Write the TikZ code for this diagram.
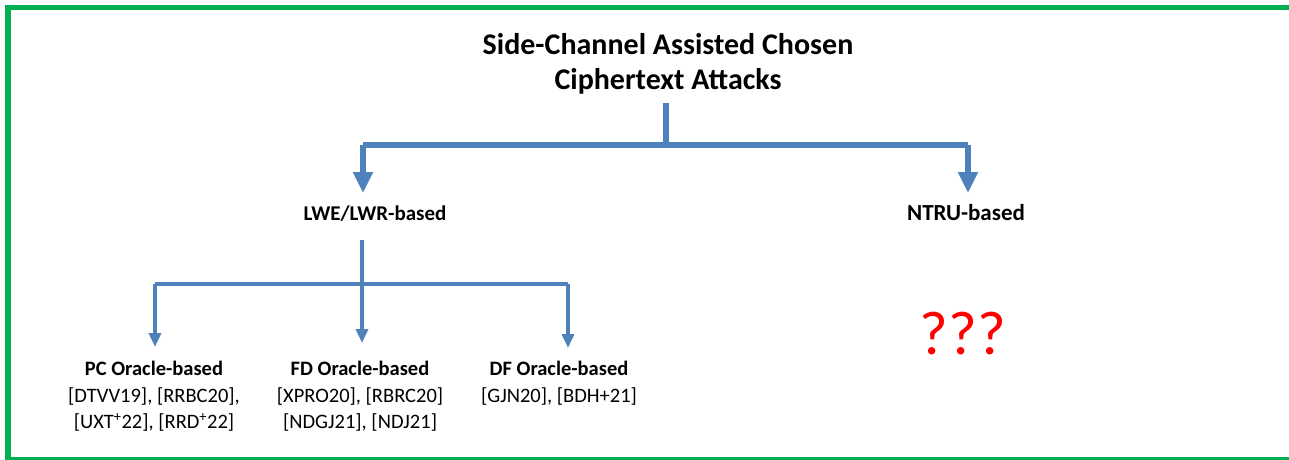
\documentclass[tikz,border=0pt]{standalone}
\usepackage{fontspec}
\setmainfont{Carlito}
\usetikzlibrary{arrows.meta}
\definecolor{framegreen}{RGB}{0,176,80}
\definecolor{linkblue}{RGB}{79,129,189}
\tikzset{
  heading/.style={font=\bfseries\fontsize{30}{35}\selectfont, align=center, inner sep=0pt},
  branch/.style={font=\bfseries\fontsize{21}{24}\selectfont, inner sep=0pt},
  leaf/.style={font=\fontsize{20.5}{26.5}\selectfont, align=center, inner sep=0pt, anchor=north},
  bigline/.style={linkblue, line width=5.5pt},
  bigarrow/.style={bigline, -{Triangle[width=19pt,length=21pt]}},
  smallline/.style={linkblue, line width=3.5pt},
  smallarrow/.style={smallline, -{Triangle[width=12pt,length=14pt]}},
}
\begin{document}
\begin{tikzpicture}[x=1pt,y=-1pt]
\useasboundingbox (0,0) rectangle (1289,459);
% outer frame
\draw[framegreen, line width=5.5pt] (8,7.5) rectangle (1320,459.5);

% nodes
\node[heading] (root) at (668,64) {Side-Channel Assisted Chosen\\Ciphertext Attacks};
\node[branch] (lwe) at (375,214) {LWE/LWR-based};
\node[branch, font=\bfseries\fontsize{23}{24}\selectfont] (ntru) at (966,213) {NTRU-based};
\node[leaf] (pc) at (154,361) {\textbf{PC Oracle-based}\\{}[DTVV19], [RRBC20],\\{}[UXT\textsuperscript{+}22], [RRD\textsuperscript{+}22]};
\node[leaf] (fd) at (360,361) {\textbf{FD Oracle-based}\\{}[XPRO20], [RBRC20]\\{}[NDGJ21], [NDJ21]};
\node[leaf] (df) at (559,361) {\textbf{DF Oracle-based}\\{}[GJN20], [BDH+21]};
\node[font=\fontsize{62}{62}\selectfont, text=red, inner sep=0pt] (unk) at (963,334) {???};

% upper tree
\coordinate (top) at (666,103);
\coordinate (split) at (666,145);
\coordinate (lweturn) at (363,145);
\coordinate (ntruturn) at (968,145);
\coordinate (lwein) at (363,193);
\coordinate (ntruin) at (968,193);
\draw[bigline] (top) -- (split);
\draw[bigline] (lweturn) -- (ntruturn);
\draw[bigarrow] (lweturn) -- (lwein);
\draw[bigarrow] (ntruturn) -- (ntruin);

% lower tree
\coordinate (ltop) at (362,240);
\coordinate (pcturn) at (155,284);
\coordinate (dfturn) at (568,284);
\coordinate (pcin) at (155,347);
\coordinate (fdin) at (362,343);
\coordinate (dfin) at (568,348);
\draw[smallline] (pcturn) -- (dfturn);
\draw[smallarrow] (ltop) -- (fdin);
\draw[smallarrow] (pcturn) -- (pcin);
\draw[smallarrow] (dfturn) -- (dfin);
\end{tikzpicture}
\end{document}
